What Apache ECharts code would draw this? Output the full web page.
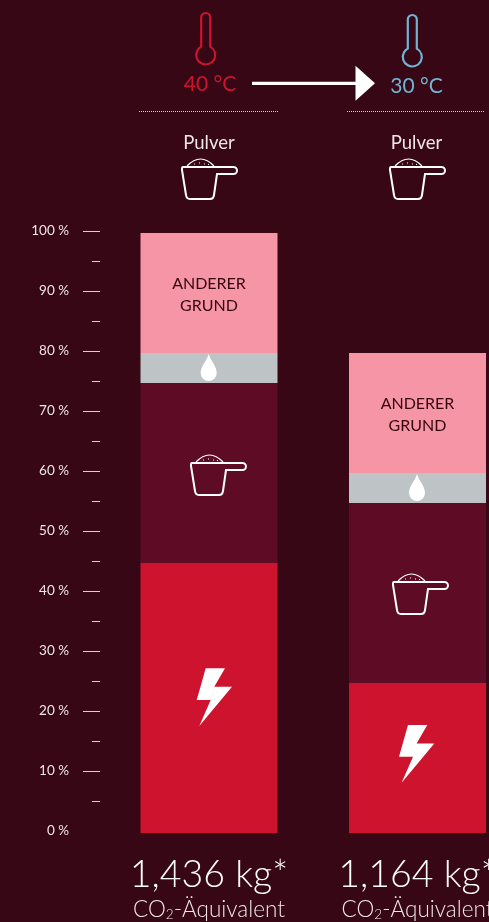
<!DOCTYPE html>
<html>
<head>
<meta charset="utf-8">
<style>
  html, body { margin: 0; padding: 0; background: #370715; }
  #chart { width: 489px; height: 922px; }
</style>
<script src="https://cdn.jsdelivr.net/npm/echarts@6/dist/echarts.min.js"></script>
</head>
<body>
<div id="chart"></div>
<script>
// data, percent of the 40 °C wash
const totals = ['1,436 kg*', '1,164 kg*'];
const energy = [45, 25];
const detergent = [30, 30];
const water = [5, 5];
const other = [20, 20];
const majorTicks = [10, 20, 30, 40, 50, 60, 70, 80, 90, 100];
const otherLabel = 'ANDERER\nGRUND';

const FONT = 'Lato';
const RED = '#ce132e';
const BLUE = '#72b3d4';
const WHITE = '#ffffff';
const TEXT = '#efe6e8';

// icons
const THERMO = 'M-4.5,33.6 L-4.5,4.5 A4.5,4.5 0 0 1 4.5,4.5 L4.5,33.6 A9.5,9.5 0 1 1 -4.5,33.6 Z';
const CUP = 'M2,0 L52.5,0 A3.5,3.5 0 0 1 52.5,7 L36,7 L33,28 Q32.5,32 29,32 L9,32 Q5.5,32 5,28 L1,3 Q0.7,0 2,0 Z';
const MOUND = 'M6,-1 Q19.5,-15 33,-1 M13,-3 h1 M18,-4 h1 M23,-3 h1 M27,-2.5 h1';
const DROP = 'M0,0 C2,7 8,12 8,19 A8,8 0 0 1 -8,19 C-8,12 -2,7 0,0 Z';
const BOLT = 'M9,0 L28.3,0 L17.6,18.4 L35.3,18.4 L2.6,57.7 L14,31.7 L0,31.7 Z';
const ARROW = 'M252,81.8 L355.5,81.8 L355.5,65.7 L375,83.3 L355.5,100.7 L355.5,85 L252,85 Z';

function stroked(path, x, y, color, width) {
  return { type: 'path', x: x, y: y, shape: { pathData: path },
    style: { fill: 'none', stroke: color, lineWidth: width } };
}
function filled(path, x, y, color) {
  return { type: 'path', x: x, y: y, shape: { pathData: path }, style: { fill: color } };
}
function label(text, x, y, size, color) {
  return { type: 'text', x: x, y: y,
    style: { text: text, fill: color, font: size + 'px ' + FONT, align: 'center', verticalAlign: 'middle' } };
}
function dotted(x1, x2) {
  return { type: 'line', shape: { x1: x1, y1: 111.5, x2: x2, y2: 111.5 },
    style: { stroke: '#d8ccd0', lineWidth: 1, lineDash: [1, 1] } };
}
function cup(x, y) {
  return [stroked(CUP, x, y, WHITE, 2), stroked(MOUND, x, y, WHITE, 1.2)];
}

function segment(name, values, color, extra) {
  return Object.assign({
    name: name,
    type: 'bar',
    stack: 'total',
    barWidth: 137,
    data: values,
    itemStyle: { color: color },
    silent: true
  }, extra || {});
}

// everything that is not a bar: icons, arrow, header
function drawIcons() {
  return {
    type: 'group',
    children: [
      stroked(THERMO, 205.7, 13, RED, 2.2),
      stroked(THERMO, 412.3, 15, BLUE, 2.2),
      filled(ARROW, 0, 0, WHITE),
      filled(DROP, 208.7, 354, WHITE),
      filled(DROP, 417, 474, WHITE),
      filled(BOLT, 196.7, 668.3, WHITE),
      filled(BOLT, 399, 725, WHITE)
    ].concat(cup(181, 167), cup(389, 167), cup(190, 463), cup(392, 582))
  };
}

const chart = echarts.init(document.getElementById('chart'));
chart.setOption({
  backgroundColor: '#370715',
  animation: false,
  // the scale sits about 2px above the bars in the picture, so it gets its own grid
  grid: [
    { left: 104.75, top: 233, width: 417, height: 600, outerBoundsMode: 'none' },
    { left: 104.75, top: 231, width: 417, height: 600, outerBoundsMode: 'none' }
  ],
  xAxis: [
    {
      type: 'category',
      data: totals,
      axisLine: { show: false },
      axisTick: { show: false },
      axisLabel: {
        margin: 18,
        interval: 0,
        hideOverlap: false,
        formatter: function (v) {
          return '{big|' + v + '}\n{small|CO}{tiny|2}{small|-Äquivalent}';
        },
        rich: {
          big: { fontFamily: FONT, fontWeight: 300, fontSize: 37.5, color: WHITE, lineHeight: 47, align: 'center' },
          small: { fontFamily: FONT, fontWeight: 300, fontSize: 22.5, color: TEXT, lineHeight: 24 },
          tiny: { fontFamily: FONT, fontWeight: 300, fontSize: 13.5, color: TEXT, lineHeight: 24, verticalAlign: 'bottom' }
        }
      }
    },
    { type: 'category', gridIndex: 1, data: totals, show: false }
  ],
  yAxis: [
    { type: 'value', min: 0, max: 100, show: false },
    {
      type: 'value',
      gridIndex: 1,
      min: 0,
      max: 100,
      interval: 10,
      offset: 4.75,
      axisLine: { show: false },
      splitLine: { show: false },
      axisTick: { show: true, length: 17, customValues: majorTicks, lineStyle: { color: '#d9ced1', width: 1 } },
      minorTick: { show: true, splitNumber: 2, length: 8, lineStyle: { color: '#d9ced1', width: 1 } },
      axisLabel: {
        margin: 31,
        formatter: '{value} %',
        fontFamily: FONT,
        fontSize: 13.5,
        color: TEXT,
        padding: [0, 0, 5, 0]
      }
    }
  ],
  series: [
    segment('Strom', energy, RED),
    segment('Waschmittel', detergent, '#5e0b25'),
    segment('Wasser', water, '#bec3c6'),
    segment('Anderer Grund', other, '#f595a5', {
      label: {
        show: true,
        position: 'inside',
        offset: [0, 2],
        formatter: otherLabel,
        fontFamily: FONT,
        fontSize: 16,
        lineHeight: 22,
        color: '#36060f',
        align: 'center'
      }
    }),
    {
      type: 'custom',
      coordinateSystem: 'none',
      data: [0],
      silent: true,
      z: 5,
      renderItem: drawIcons
    }
  ],
  graphic: [
    label('40 °C', 210, 84, 21, RED),
    label('30 °C', 416.5, 86, 21, BLUE),
    dotted(139, 278),
    dotted(347, 485),
    label('Pulver', 209, 143, 18.5, TEXT),
    label('Pulver', 416.5, 143, 18.5, TEXT)
  ]
});
</script>
</body>
</html>
